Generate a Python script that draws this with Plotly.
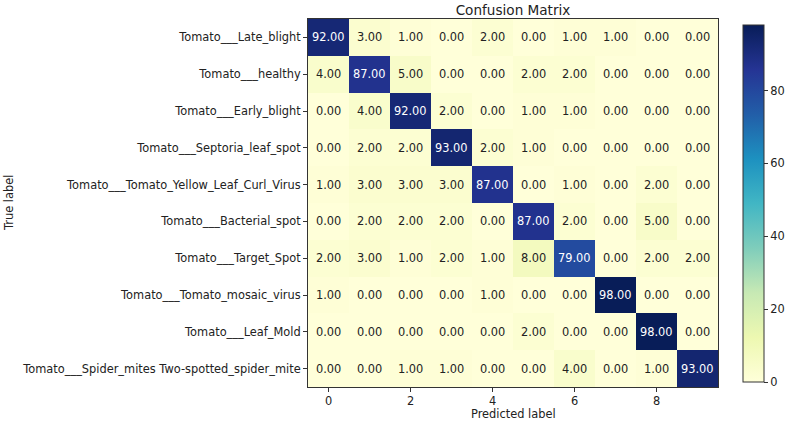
import plotly.graph_objects as go

classes = [
    "Tomato___Late_blight",
    "Tomato___healthy",
    "Tomato___Early_blight",
    "Tomato___Septoria_leaf_spot",
    "Tomato___Tomato_Yellow_Leaf_Curl_Virus",
    "Tomato___Bacterial_spot",
    "Tomato___Target_Spot",
    "Tomato___Tomato_mosaic_virus",
    "Tomato___Leaf_Mold",
    "Tomato___Spider_mites Two-spotted_spider_mite",
]
pred_idx = list(range(10))
x_ticks = [0, 2, 4, 6, 8]
cbar_ticks = [0, 20, 40, 60, 80]

row_late_blight = [92, 3, 1, 0, 2, 0, 1, 1, 0, 0]
row_healthy = [4, 87, 5, 0, 0, 2, 2, 0, 0, 0]
row_early_blight = [0, 4, 92, 2, 0, 1, 1, 0, 0, 0]
row_septoria = [0, 2, 2, 93, 2, 1, 0, 0, 0, 0]
row_yellow_curl = [1, 3, 3, 3, 87, 0, 1, 0, 2, 0]
row_bacterial = [0, 2, 2, 2, 0, 87, 2, 0, 5, 0]
row_target = [2, 3, 1, 2, 1, 8, 79, 0, 2, 2]
row_mosaic = [1, 0, 0, 0, 1, 0, 0, 98, 0, 0]
row_leaf_mold = [0, 0, 0, 0, 0, 2, 0, 0, 98, 0]
row_spider = [0, 0, 1, 1, 0, 0, 4, 0, 1, 93]

matrix = [row_late_blight, row_healthy, row_early_blight, row_septoria,
          row_yellow_curl, row_bacterial, row_target, row_mosaic,
          row_leaf_mold, row_spider]

ylgnbu = ['#ffffd9', '#edf8b1', '#c7e9b4', '#7fcdbb', '#41b6c4',
          '#1d91c0', '#225ea8', '#253494', '#081d58']
scale = [[i / (len(ylgnbu) - 1), c] for i, c in enumerate(ylgnbu)]

zmax = max(max(r) for r in matrix)
zmin = min(min(r) for r in matrix)
thresh = zmax / 2.0

FONT = "DejaVu Sans"
FS = 11.4
TXT = "#222"
W, H = 790, 421
L, R, T, B = 308, 72, 19, 34
ph = H - T - B
pw = W - L - R

fig = go.Figure(go.Heatmap(
    z=matrix, x=pred_idx, y=classes, colorscale=scale,
    zmin=zmin, zmax=zmax, xgap=0, ygap=0,
    colorbar=dict(
        thickness=21, lenmode="pixels", len=357,
        x=1 + 25 / pw, xanchor="left", xpad=0,
        y=1 - 6 / ph, yanchor="top", ypad=0,
        outlinewidth=1, outlinecolor="#333",
        tickvals=cbar_ticks, ticks="outside", ticklen=4,
        tickcolor="#333", tickfont=dict(family=FONT, size=FS, color=TXT),
    ),
    hoverinfo="skip",
))

for i, row in enumerate(matrix):
    for j, v in enumerate(row):
        fig.add_annotation(
            x=pred_idx[j], y=classes[i], text=f"{v:.2f}", showarrow=False,
            font=dict(family=FONT, size=FS,
                      color="white" if v > thresh else TXT),
        )

fig.update_layout(
    width=W, height=H,
    margin=dict(l=L, r=R, t=T, b=B, autoexpand=False),
    paper_bgcolor="white", plot_bgcolor="white",
    font=dict(family=FONT, size=FS, color=TXT),
    title=dict(text="Confusion Matrix", x=0.5, xref="paper",
               y=1 - 10 / H, yref="container", yanchor="middle",
               font=dict(family=FONT, size=13.6, color=TXT)),
)
fig.update_xaxes(
    automargin=False,
    tickvals=x_ticks, ticks="outside", ticklen=4, tickcolor="#333",
    showline=True, mirror=True, linecolor="#333", linewidth=1,
    showgrid=False, zeroline=False, range=[-0.5, 9.5],
    tickfont=dict(family=FONT, size=FS, color=TXT),
    ticklabelstandoff=-1,
)
fig.update_yaxes(
    automargin=False,
    autorange="reversed", ticks="outside", ticklen=4, tickcolor="#333",
    showline=True, mirror=True, linecolor="#333", linewidth=1,
    showgrid=False, zeroline=False,
    tickfont=dict(family=FONT, size=FS, color=TXT),
)
fig.add_annotation(
    text="Predicted label", xref="paper", yref="paper",
    x=0.5, y=-(414 - (H - B)) / ph, showarrow=False,
    xanchor="center", yanchor="middle",
    font=dict(family=FONT, size=FS, color=TXT),
)
fig.add_annotation(
    text="True label", textangle=-90, xref="paper", yref="paper",
    x=-(L - 9) / pw, y=0.5, showarrow=False, xanchor="center",
    font=dict(family=FONT, size=FS, color=TXT),
)

fig.write_html("out.html", config={"displayModeBar": False},
               post_script="document.body.style.margin='0px';"
                           "document.body.style.overflow='hidden';")
